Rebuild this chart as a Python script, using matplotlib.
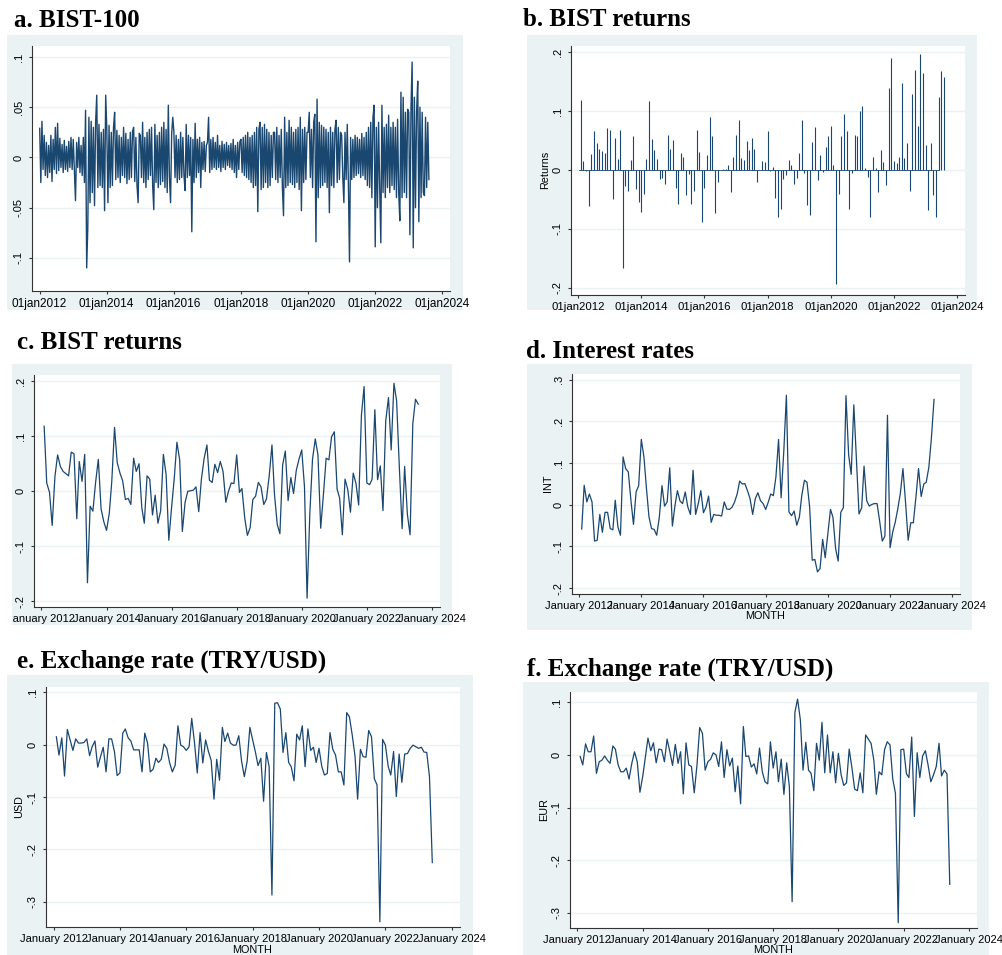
import matplotlib
matplotlib.use('Agg')
import matplotlib.pyplot as plt
from matplotlib.transforms import Bbox, TransformedBbox
import pandas as pd

W, H = 1003, 955
NAVY = '#1a476f'
BG = '#eaf2f3'
AXIS = '#333333'

# daily BIST-100 returns (thinned to ~30 obs per year)
bist100 = [
    # 2012
    0.029, -0.025, 0.036, -0.012, 0.022, -0.018, 0.015, -0.02, 0.012, -0.015,
    0.022, -0.024, 0.018, -0.012, 0.03, -0.016, 0.034, -0.013, 0.019, -0.01,
    0.013, -0.015, 0.017, -0.012, 0.011, -0.014, 0.016, -0.01, 0.02, -0.012,
    # 2013
    0.018, -0.012, -0.043, 0.015, -0.01, 0.02, -0.015, 0.012, -0.018, 0.02,
    -0.025, 0.047, -0.11, -0.07, 0.04, -0.045, 0.036, -0.035, 0.03, -0.048,
    0.035, 0.062, -0.03, 0.033, -0.028, 0.025, -0.03, 0.028, -0.053, 0.062,
    # 2014
    0.028, -0.045, 0.032, -0.03, 0.025, -0.028, 0.03, 0.045, -0.022, 0.027,
    -0.02, 0.022, -0.025, 0.02, -0.018, 0.03, -0.02, 0.024, -0.026, 0.018,
    -0.022, 0.025, -0.02, 0.026, 0.03, -0.024, 0.02, -0.028, -0.045, 0.024,
    # 2015
    0.022, -0.02, 0.035, -0.025, 0.02, -0.03, 0.025, -0.022, 0.028, -0.018,
    0.03, -0.028, -0.052, 0.033, -0.025, 0.022, -0.03, 0.025, -0.027, 0.03,
    -0.024, 0.035, -0.03, 0.028, -0.035, 0.052, -0.02, -0.045, 0.024, 0.04,
    # 2016
    0.025, -0.02, 0.022, -0.025, 0.018, -0.022, 0.025, -0.02, 0.02, -0.018,
    -0.033, 0.033, -0.02, 0.022, -0.018, 0.02, -0.074, 0.018, -0.025, 0.034,
    -0.02, 0.018, -0.015, 0.02, -0.03, 0.015, -0.012, 0.016, -0.014, 0.012,
    # 2017
    0.015, 0.04, -0.015, 0.018, -0.012, 0.02, -0.01, 0.015, -0.012, 0.022,
    -0.01, 0.012, -0.014, 0.016, -0.01, 0.013, -0.012, 0.015, -0.008, 0.012,
    -0.01, 0.014, -0.012, 0.018, -0.015, 0.012, -0.02, 0.015, -0.012, 0.016,
    # 2018
    0.018, -0.015, 0.02, -0.018, 0.022, -0.02, 0.025, -0.022, 0.02, -0.025,
    0.022, -0.03, 0.025, -0.028, 0.03, -0.054, 0.028, 0.035, -0.032, 0.03,
    -0.03, 0.033, -0.025, 0.028, -0.03, 0.025, -0.028, 0.022, -0.02, 0.025,
    # 2019
    0.025, -0.022, 0.03, -0.025, 0.022, -0.02, 0.028, -0.03, -0.058, 0.04,
    -0.03, 0.025, -0.028, 0.037, -0.025, 0.03, -0.027, 0.025, -0.03, 0.028,
    -0.025, 0.03, -0.032, 0.04, -0.053, 0.028, -0.025, 0.03, -0.022, 0.025,
    # 2020
    0.025, 0.045, -0.02, 0.028, -0.03, 0.035, 0.043, -0.084, 0.058, -0.04,
    0.035, -0.03, 0.032, -0.028, 0.03, -0.025, 0.028, -0.03, 0.025, -0.055,
    0.03, -0.028, 0.025, -0.03, 0.028, 0.037, -0.025, 0.03, -0.022, 0.025,
    # 2021
    0.022, -0.02, -0.045, 0.025, -0.022, 0.033, -0.025, -0.104, 0.02, -0.022,
    0.018, -0.02, 0.022, -0.018, 0.02, -0.016, 0.018, -0.02, 0.024, -0.018,
    0.02, -0.022, 0.025, -0.028, 0.03, -0.03, 0.035, -0.04, 0.04, 0.052,
    # 2022
    -0.089, 0.03, -0.05, 0.035, -0.03, -0.085, 0.052, -0.035, 0.03, -0.04,
    0.033, -0.03, 0.042, -0.035, 0.03, -0.028, 0.035, -0.032, 0.03, -0.04,
    0.038, -0.035, -0.063, 0.065, -0.04, 0.06, -0.035, 0.045, -0.04, 0.048,
    # 2023 (to August)
    0.045, -0.077, 0.05, 0.095, -0.09, 0.06, -0.05, 0.045, 0.076, -0.064,
    0.05, -0.04, 0.045, -0.035, -0.038, 0.04, -0.03, 0.035, -0.022,
]

# monthly BIST returns, Feb 2012 - Aug 2023
returns = [
    0.118, 0.015, -0.002, -0.062, 0.027, 0.066, 0.045, 0.036, 0.032, 0.028, 0.071,
    0.068, -0.05, 0.054, 0.018, 0.067, -0.166, -0.027, -0.036, 0.017, 0.058, -0.032, -0.055,
    -0.071, -0.04, 0.018, 0.116, 0.052, 0.033, 0.019, -0.015, -0.013, -0.024, 0.06, 0.036,
    0.05, -0.03, -0.058, 0.028, 0.022, -0.043, -0.007, -0.058, -0.035, 0.067, 0.03, -0.089,
    -0.03, 0.025, 0.089, 0.057, -0.073, -0.02, 0.0, 0.001, 0.002, 0.008, -0.037, 0.022,
    0.06, 0.084, 0.02, 0.016, 0.049, 0.034, 0.054, 0.036, -0.02, 0.0, 0.015, 0.014,
    0.066, -0.002, 0.005, -0.048, -0.08, -0.066, -0.015, -0.009, 0.016, 0.008, -0.024, -0.014,
    0.028, 0.084, -0.005, -0.06, -0.077, 0.048, 0.073, -0.017, 0.025, -0.004, 0.038, 0.058,
    0.075, 0.008, -0.194, -0.04, 0.058, 0.095, 0.066, -0.067, -0.005, 0.06, 0.057, 0.099,
    0.108, 0.004, -0.012, -0.079, 0.022, 0.003, -0.038, 0.033, 0.014, -0.025, 0.138, 0.19,
    0.015, 0.012, 0.022, 0.148, 0.021, 0.046, -0.035, 0.128, 0.17, 0.075, 0.196, 0.164,
    0.042, -0.068, 0.045, -0.042, -0.079, 0.123, 0.167, 0.158,
]

# monthly interest rate changes (INT), Feb 2012 - Jun 2023
interest = [
    -0.058, 0.047, 0.007, 0.026, 0.007, -0.087, -0.085, -0.023, -0.066, -0.018, -0.018,
    -0.057, -0.06, 0.011, -0.053, -0.073, 0.115, 0.087, 0.079, 0.011, -0.047, 0.031, 0.046,
    0.157, 0.115, 0.043, -0.029, -0.057, -0.059, -0.073, -0.029, 0.046, -0.003, 0.007, 0.089,
    -0.051, -0.001, 0.034, 0.009, 0.003, 0.031, -0.005, -0.023, 0.083, -0.023, 0.003, 0.034,
    -0.019, -0.005, 0.021, -0.042, -0.023, -0.025, -0.025, -0.027, 0.007, -0.01, -0.011, -0.006,
    0.007, 0.027, 0.057, 0.05, 0.051, 0.034, 0.015, -0.023, 0.015, 0.029, 0.01, 0.003,
    -0.011, 0.007, 0.026, 0.022, 0.067, 0.157, 0.017, 0.127, 0.263, -0.017, -0.026, -0.015,
    -0.049, -0.029, 0.023, 0.059, 0.054, -0.005, -0.133, -0.131, -0.161, -0.153, -0.083, -0.127,
    -0.07, -0.011, -0.03, -0.105, -0.135, -0.018, -0.007, 0.262, 0.12, 0.073, 0.24, 0.11,
    -0.022, -0.007, 0.093, 0.01, -0.003, 0.001, 0.003, 0.003, -0.04, -0.087, -0.075, 0.215,
    -0.103, -0.065, -0.043, -0.01, 0.027, 0.087, 0.007, -0.085, -0.043, -0.043, 0.02, 0.087,
    0.02, 0.05, 0.054, 0.09, 0.16, 0.253,
]

# monthly TRY/USD changes, Feb 2012 - Jun 2023
usd = [
    0.015, -0.02, 0.013, -0.06, 0.029, 0.009, -0.011, 0.011, 0.003, 0.003, 0.004,
    0.011, -0.021, -0.004, 0.007, -0.043, -0.023, -0.005, -0.052, 0.011, 0.011, -0.013, -0.059,
    -0.054, 0.022, 0.03, 0.013, 0.007, -0.01, -0.01, -0.01, -0.052, 0.022, 0.003, -0.052,
    -0.047, -0.026, -0.034, -0.028, 0.001, -0.007, -0.034, -0.052, -0.039, 0.036, -0.001, -0.004,
    -0.011, -0.004, 0.05, 0.003, -0.054, 0.023, -0.035, 0.009, -0.013, -0.03, -0.104, -0.028,
    -0.068, 0.033, 0.006, 0.022, 0.003, -0.001, -0.001, 0.017, -0.032, -0.061, -0.032, 0.033,
    0.009, -0.015, -0.04, -0.026, -0.108, -0.015, -0.042, -0.287, 0.079, 0.08, 0.068, -0.015,
    0.023, -0.034, -0.042, -0.069, 0.02, 0.009, 0.036, -0.042, 0.03, -0.011, -0.005, -0.034,
    -0.007, -0.042, -0.058, -0.055, 0.023, -0.009, -0.02, -0.052, -0.052, -0.077, 0.061, 0.053,
    0.018, -0.023, -0.104, -0.009, -0.023, -0.024, 0.027, 0.015, -0.065, -0.077, -0.338, 0.01,
    -0.001, -0.042, -0.058, -0.013, -0.099, -0.018, -0.072, -0.018, -0.017, -0.007, -0.001, -0.004,
    -0.007, -0.005, -0.014, -0.015, -0.061, -0.225,
]

# monthly TRY/EUR changes, Feb 2012 - Jun 2023
eur = [
    -0.003, -0.019, 0.021, 0.006, 0.006, 0.036, -0.035, -0.013, -0.01, -0.002, -0.01,
    -0.016, 0.017, 0.011, -0.019, -0.032, -0.032, -0.025, -0.046, -0.016, 0.006, -0.013, -0.071,
    -0.041, -0.003, 0.032, 0.008, 0.023, -0.015, 0.011, 0.01, -0.013, 0.03, 0.006, -0.02,
    0.02, -0.016, 0.006, -0.074, 0.023, -0.019, -0.022, -0.072, -0.019, 0.052, 0.041, -0.029,
    -0.013, -0.008, 0.004, 0.0, -0.022, 0.025, -0.043, 0.01, -0.021, -0.006, -0.07, -0.021,
    -0.093, 0.054, -0.003, -0.002, -0.023, -0.017, -0.036, 0.013, -0.032, -0.051, -0.055, 0.025,
    -0.025, 0.006, -0.051, -0.008, -0.075, -0.015, -0.06, -0.279, 0.081, 0.106, 0.067, -0.029,
    0.024, -0.029, -0.035, -0.068, 0.022, -0.01, 0.062, -0.034, 0.038, -0.034, 0.006, -0.053,
    0.003, -0.038, -0.058, -0.053, 0.011, -0.025, -0.065, -0.068, -0.034, -0.072, 0.038, 0.03,
    0.022, -0.01, -0.075, -0.032, -0.038, 0.01, 0.025, 0.019, -0.046, -0.073, -0.319, 0.01,
    0.011, -0.036, -0.043, 0.034, -0.117, 0.004, -0.043, -0.002, 0.008, -0.019, -0.051, -0.038,
    -0.022, 0.022, -0.04, -0.029, -0.036, -0.246,
]

tick_years = [2012, 2014, 2016, 2018, 2020, 2022, 2024]
xticks = [pd.Timestamp(f'{y}-01-01') for y in tick_years]
xlim = (pd.Timestamp('2011-10-10'), pd.Timestamp('2024-04-01'))

daily_dates = pd.date_range('2012-01-02', '2023-08-15', periods=len(bist100))
ret_dates = pd.date_range('2012-02-01', periods=len(returns), freq='MS')
int_dates = pd.date_range('2012-02-01', periods=len(interest), freq='MS')
usd_dates = pd.date_range('2012-02-01', periods=len(usd), freq='MS')
eur_dates = pd.date_range('2012-02-01', periods=len(eur), freq='MS')

plt.rcParams['font.family'] = ['Liberation Sans', 'DejaVu Sans']

fig = plt.figure(figsize=(W / 100, H / 100), dpi=100)
fig.patch.set_facecolor('white')


def px_rect(x0, y0, x1, y1):
    return [x0 / W, 1 - y1 / H, (x1 - x0) / W, (y1 - y0) / H]


def panel(title, tpos, bg, area, ylim, yticks, ylabels, xfmt, ylabel=None, lpos=None, month=None):
    # grey graph region behind the white plot region
    back = fig.add_axes(px_rect(*bg), zorder=-5)
    back.set_facecolor(BG)
    back.set_xticks([])
    back.set_yticks([])
    for s in back.spines.values():
        s.set_visible(False)
    fig.text(tpos[0] / W, 1 - tpos[1] / H, title, family='Liberation Serif', weight='bold',
             fontsize=18, va='baseline', ha='left')
    ax = fig.add_axes(px_rect(*area))
    ax.set_facecolor('white')
    ax.set_xlim(*xlim)
    ax.set_ylim(*ylim)
    ax.set_yticks(yticks)
    ax.set_yticklabels(ylabels, rotation=90, va='center', fontsize=8)
    ax.set_xticks(xticks)
    ax.set_xticklabels([xfmt.format(y) for y in tick_years], fontsize=8)
    ax.grid(axis='y', color=BG, lw=1)
    ax.set_axisbelow(True)
    for s in ['top', 'right']:
        ax.spines[s].set_visible(False)
    for s in ['left', 'bottom']:
        ax.spines[s].set_color(AXIS)
        ax.spines[s].set_linewidth(0.8)
    ax.tick_params(length=2.5, width=0.8, color=AXIS, pad=2.5)
    ax.tick_params(axis='y', pad=3.5)
    if ylabel:
        fig.text(lpos[0] / W, 1 - lpos[1] / H, ylabel, rotation=90, fontsize=7.8, ha='center', va='center')
    if month:
        fig.text(month[0] / W, 1 - month[1] / H, 'MONTH', fontsize=7.8, ha='center', va='center')
    return ax, back


# a. daily index returns
ax, _ = panel('a. BIST-100', (14, 27), (7, 35, 463, 310), (32, 46, 450, 291), (-0.133, 0.111),
              [0.1, 0.05, 0, -0.05, -0.1], ['.1', '.05', '0', '-.05', '-.1'], '01jan{}')
ax.plot(daily_dates, bist100, color=NAVY, lw=1.0)
for lbl in ax.get_xticklabels():
    lbl.set_fontsize(8.5)

# b. monthly returns as spikes
ax, _ = panel('b. BIST returns', (523, 26), (527, 35, 977, 310), (571, 46, 965, 295), (-0.212, 0.21),
              [0.2, 0.1, 0, -0.1, -0.2], ['.2', '.1', '0', '-.1', '-.2'], '01jan{}',
              ylabel='Returns', lpos=(545, 170))
ax.vlines(ret_dates, 0, returns, color=NAVY, lw=0.8)
ax.axhline(0, color=NAVY, lw=0.6, xmin=0.02, xmax=0.935)
for lbl in ax.get_xticklabels():
    lbl.set_fontsize(8.2)

# c. monthly returns as a line
ax, back = panel('c. BIST returns', (17, 349), (12, 364, 452, 625), (34, 375, 440, 607), (-0.21, 0.211),
                 [0.2, 0.1, 0, -0.1, -0.2], ['.2', '.1', '0', '-.1', '-.2'], 'January {}')
ax.plot(ret_dates, returns, color=NAVY, lw=0.9)
# first date label is cut by the edge of the grey region
clip = TransformedBbox(Bbox([[12 / W, 0], [1, 1]]), fig.transFigure)
first = ax.get_xticklabels()[0]
first.set_clip_box(clip)
first.set_clip_on(True)

# d. interest rates
ax, _ = panel('d. Interest rates', (526, 358), (527, 364, 972, 630), (572, 374, 960, 594), (-0.214, 0.314),
              [0.3, 0.2, 0.1, 0, -0.1, -0.2], ['.3', '.2', '.1', '0', '-.1', '-.2'], 'January {}',
              ylabel='INT', lpos=(548, 483), month=(765, 616))
ax.plot(int_dates, interest, color=NAVY, lw=0.9)

# e. TRY/USD
ax, _ = panel('e. Exchange rate (TRY/USD)', (17, 668), (7, 675, 473, 955), (46, 687, 460, 927), (-0.348, 0.110),
              [0.1, 0, -0.1, -0.2, -0.3], ['.1', '0', '-.1', '-.2', '-.3'], 'January {}',
              ylabel='USD', lpos=(19, 807), month=(252, 950))
ax.plot(usd_dates, usd, color=NAVY, lw=0.9)

# f. TRY/EUR
ax, _ = panel('f. Exchange rate (TRY/USD)', (527, 676), (523, 682, 989, 955), (570, 692, 977, 928), (-0.329, 0.1196),
              [0.1, 0, -0.1, -0.2, -0.3], ['.1', '0', '-.1', '-.2', '-.3'], 'January {}',
              ylabel='EUR', lpos=(544, 810), month=(773, 950))
ax.plot(eur_dates, eur, color=NAVY, lw=0.9)

fig.savefig('out.png', dpi=100)
plt.close(fig)
